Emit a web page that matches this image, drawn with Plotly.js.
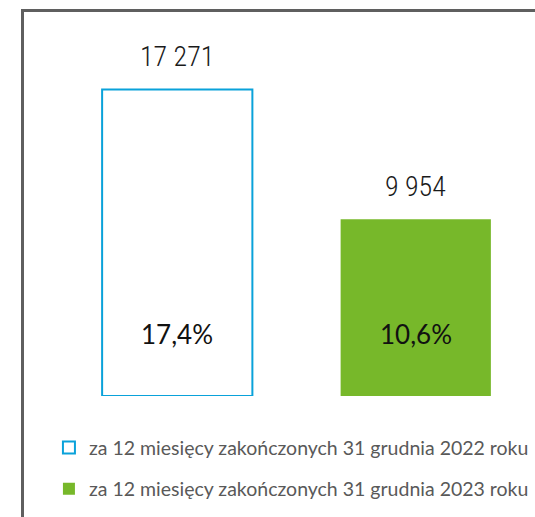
<!DOCTYPE html>
<html>
<head>
<meta charset="utf-8">
<script src="https://cdn.plot.ly/plotly-3.0.1.min.js"></script>
<style>
html,body{margin:0;padding:0;background:#fff;}
#wrap{position:relative;width:535px;height:517px;overflow:hidden;}
#chart{width:535px;height:517px;}
#frame{position:absolute;left:21px;top:9px;width:600px;height:600px;border-left:3px solid #5f5f5f;border-top:3px solid #5f5f5f;pointer-events:none;box-sizing:border-box;}
</style>
</head>
<body>
<div id="wrap">
<div id="chart"></div>
<div id="frame"></div>
</div>
<script>
const categories = ["rok 2022", "rok 2023"];
const values = [17271, 9954];
const shares = [17.4, 10.6];
const seriesNames = [
  "za 12 miesięcy zakończonych 31 grudnia 2022 roku",
  "za 12 miesięcy zakończonych 31 grudnia 2023 roku"
];

function fmtInt(v){ return String(v).replace(/\B(?=(\d{3})+(?!\d))/g, " "); }
function fmtPct(v){ return v.toFixed(1).replace(".", ",") + "%"; }

const blue = "#0aa2da";
const green = "#77b82a";

const traces = [
  {
    type: "bar", x: [categories[0]], y: [values[0]], name: seriesNames[0],
    legendgroup: "g1",
    marker: {color: "#ffffff", line: {color: blue, width: 2}},
    hoverinfo: "none"
  },
  {
    type: "bar", x: [categories[1]], y: [values[1]], name: seriesNames[1],
    legendgroup: "g2",
    marker: {color: green, line: {color: green, width: 0}},
    hoverinfo: "none"
  }
];

const annotations = [];
categories.forEach((c, i) => {
  annotations.push({
    x: i, y: values[i], xref: "x", yref: "y",
    text: fmtInt(values[i]), showarrow: false,
    yanchor: "bottom", yshift: 14,
    font: {family: "'Liberation Sans Narrow', 'Roboto Condensed', 'DejaVu Sans Condensed', sans-serif", size: 28, color: "#1a1a1a", weight: 300}
  });
  annotations.push({
    x: i, y: 0.175, xref: "x", yref: "paper",
    text: fmtPct(shares[i]), showarrow: false,
    yanchor: "middle",
    font: {family: "Lato, sans-serif", size: 26, color: "#111111"}
  });
});

const layout = {
  width: 535, height: 517,
  margin: {l: 58, r: 0, t: 41, b: 121, pad: 0},
  paper_bgcolor: "#ffffff", plot_bgcolor: "#ffffff",
  barmode: "overlay",
  bargap: 0.37,
  xaxis: {visible: false, range: [-0.5, 1.5], type: "category", fixedrange: true},
  yaxis: {visible: false, range: [0, 20000], fixedrange: true},
  showlegend: true,
  legend: {
    orientation: "v", x: -0.019, xanchor: "left", y: -0.091, yanchor: "top",
    font: {family: "Lato, sans-serif", size: 19.5, color: "#595959"},
    tracegroupgap: 13, itemwidth: 30, bgcolor: "rgba(0,0,0,0)"
  },
  annotations: annotations
};

Plotly.newPlot("chart", traces, layout, {displayModeBar: false, staticPlot: true});
</script>
</body>
</html>
